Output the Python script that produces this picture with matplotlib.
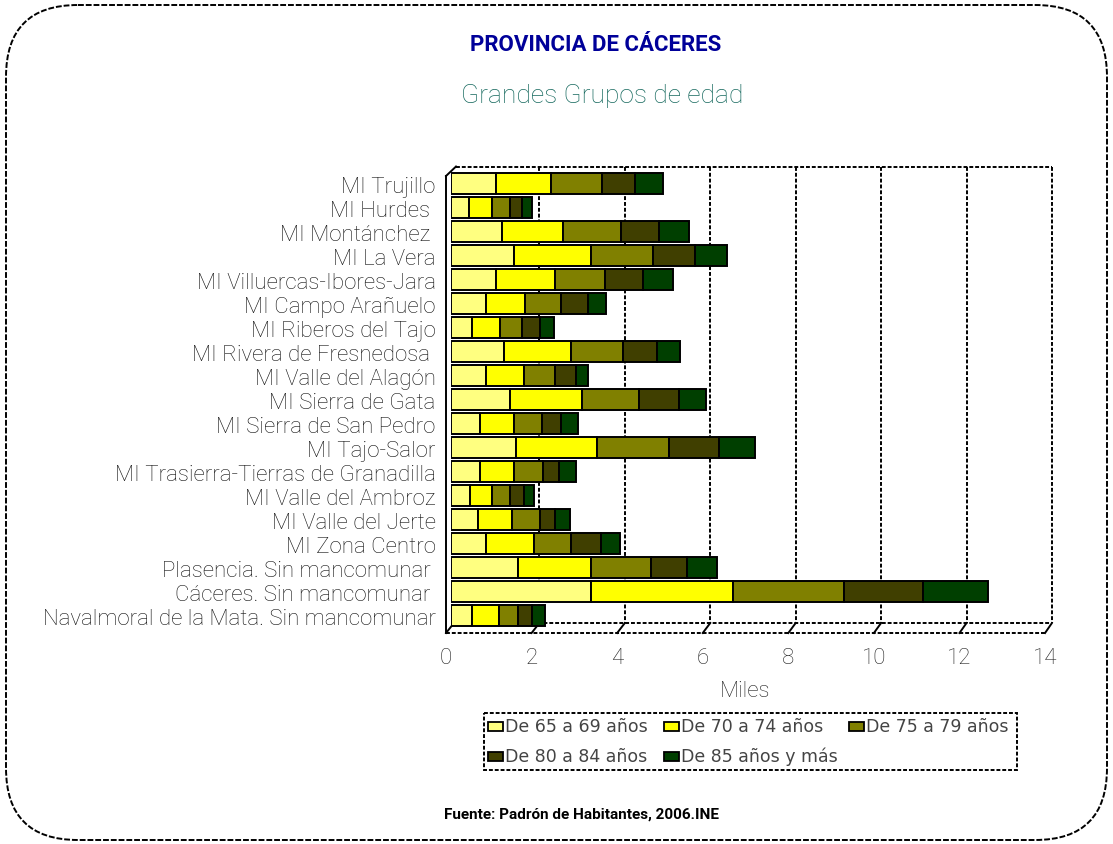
import matplotlib
matplotlib.use("Agg")
import matplotlib.pyplot as plt
from matplotlib.patches import FancyBboxPatch, Rectangle
from matplotlib.transforms import ScaledTranslation
import numpy as np

# Datos (miles de habitantes), de arriba a abajo
zonas = ["MI Trujillo", "MI Hurdes ", "MI Montánchez ", "MI La Vera",
         "MI Villuercas-Ibores-Jara", "MI Campo Arañuelo", "MI Riberos del Tajo",
         "MI Rivera de Fresnedosa ", "MI Valle del Alagón", "MI Sierra de Gata",
         "MI Sierra de San Pedro", "MI Tajo-Salor", "MI Trasierra-Tierras de Granadilla",
         "MI Valle del Ambroz", "MI Valle del Jerte", "MI Zona Centro",
         "Plasencia. Sin mancomunar ", "Cáceres. Sin mancomunar ",
         "Navalmoral de la Mata. Sin mancomunar"]

grupos = ["De 65 a 69 años", "De 70 a 74 años", "De 75 a 79 años",
          "De 80 a 84 años", "De 85 años y más"]

s65 = [1.04, 0.43, 1.19, 1.47, 1.05, 0.81, 0.49, 1.23, 0.81, 1.37, 0.67, 1.52, 0.67, 0.44, 0.63, 0.81, 1.56, 3.26, 0.48]
s70 = [1.30, 0.52, 1.43, 1.80, 1.39, 0.93, 0.65, 1.58, 0.89, 1.68, 0.80, 1.90, 0.80, 0.51, 0.79, 1.12, 1.72, 3.32, 0.63]
s75 = [1.18, 0.42, 1.36, 1.44, 1.16, 0.84, 0.51, 1.21, 0.74, 1.35, 0.65, 1.67, 0.69, 0.42, 0.65, 0.88, 1.39, 2.60, 0.46]
s80 = [0.78, 0.29, 0.88, 0.99, 0.89, 0.61, 0.44, 0.80, 0.48, 0.93, 0.46, 1.17, 0.37, 0.33, 0.37, 0.70, 0.84, 1.84, 0.33]
s85 = [0.66, 0.24, 0.70, 0.76, 0.70, 0.42, 0.32, 0.54, 0.27, 0.62, 0.38, 0.85, 0.39, 0.25, 0.34, 0.44, 0.71, 1.53, 0.29]

colores = ["#FFFF80", "#FFFF00", "#808000", "#403F00", "#003F00"]
ticks_x = [0, 2, 4, 6, 8, 10, 12, 14]

W, H = 1113, 845
fig = plt.figure(figsize=(W / 100, H / 100), dpi=100)

# Capa de fondo en pixeles (marco, planos 3D, textos)
bg = fig.add_axes([0, 0, 1, 1], zorder=0)
bg.set_xlim(0, W)
bg.set_ylim(H, 0)
bg.axis("off")

marco = FancyBboxPatch((6, 6), W - 12, H - 10, boxstyle="round,pad=0,rounding_size=72",
                       fill=False, ec="black", lw=1.4, ls=(0, (3, 1)))
bg.add_patch(marco)

# plano trasero y suelo
x0b, sb = 454, 42.71
x0f, sf = 446, 42.79
dash = (0, (2, 1))
bg.plot([456, 1052], [167.5, 167.5], color="black", lw=1.4, ls=dash)
bg.plot([1052, 1052], [167.5, 624], color="black", lw=1.4, ls=dash)
for v in [2, 4, 6, 8, 10, 12]:
    bg.plot([x0b + sb * v] * 2, [167.5, 624], color="black", lw=1.4, ls=dash)
bg.plot([446, 446], [177, 634], color="black", lw=1.4)
bg.plot([446, 456], [177, 167.5], color="black", lw=1.4)
bg.plot([456, 1052], [624, 624], color="black", lw=1.4, ls=dash)
bg.plot([446, 1045], [634, 634], color="black", lw=1.4, ls=dash)
for v in ticks_x:
    bg.plot([x0f + sf * v, x0b + sb * v], [634, 624], color="black", lw=1.4)

# titulos
bg.text(596, 45, "PROVINCIA DE CÁCERES", ha="center", va="center", fontsize=16,
        fontweight="bold", color="#000099", family=["Roboto", "DejaVu Sans"])
bg.text(602, 96, "Grandes Grupos de edad", ha="center", va="center", fontsize=19,
        fontweight="light", color="#16695E", family=["Roboto", "DejaVu Sans"])
bg.text(582, 815, "Fuente: Padrón de Habitantes, 2006.INE", ha="center", va="center",
        fontsize=11, fontweight="bold", color="black",
        family=["Roboto", "DejaVu Sans"])

# leyenda
bg.add_patch(Rectangle((484, 714), 533, 57, fill=False, ec="black", lw=1.4, ls=dash))
pos_leg = [(488, 727), (664, 727), (849, 727), (488, 757), (664, 757)]
for (lx, ly), g, c in zip(pos_leg, grupos, colores):
    bg.add_patch(Rectangle((lx, ly - 4.5), 15, 9, fc=c, ec="black", lw=1.3))
    bg.text(lx + 17, ly, g, va="center", ha="left", fontsize=12.5, color="#444444",
            family=["DejaVu Sans"])

# Barras
left_px, top_px, bot_px = 451, 172.9, 628.7
ax = fig.add_axes([left_px / W, (H - bot_px) / H, 14 * 42.8 / W, (bot_px - top_px) / H], zorder=2)
ax.patch.set_alpha(0)
y = np.arange(len(zonas))
acum = np.zeros(len(zonas))
for serie, c, g in zip([s65, s70, s75, s80, s85], colores, grupos):
    ax.barh(y, serie, left=acum, height=0.88, color=c, edgecolor="black", linewidth=1.4, label=g)
    acum = acum + np.array(serie)

ax.set_xlim(0, 14)
ax.set_ylim(len(zonas) - 0.5, -0.5)
for s in ax.spines.values():
    s.set_visible(False)
ax.set_xticks(ticks_x)
ax.set_xticklabels([str(t) for t in ticks_x], fontsize=16, color="#222222",
                   family=["Roboto", "DejaVu Sans"], fontweight="light")
ax.set_yticks(y)
ax.set_yticklabels(zonas, fontsize=16, color="#111111",
                   family=["Roboto", "DejaVu Sans"], fontweight="light")
ax.tick_params(axis="x", length=0, pad=14)
ax.tick_params(axis="y", length=0, pad=11)
off = ScaledTranslation(-5 / 100, 0, fig.dpi_scale_trans)
for lab in ax.get_xticklabels():
    lab.set_transform(lab.get_transform() + off)

ax.set_xlabel("Miles", fontsize=16, color="#222222", family=["Roboto", "DejaVu Sans"],
              fontweight="light")
ax.xaxis.label.set_va("center")
ax.xaxis.set_label_coords((745 - left_px) / (14 * 42.8), -(692 - bot_px) / (bot_px - top_px))

fig.savefig("out.png", dpi=100)
